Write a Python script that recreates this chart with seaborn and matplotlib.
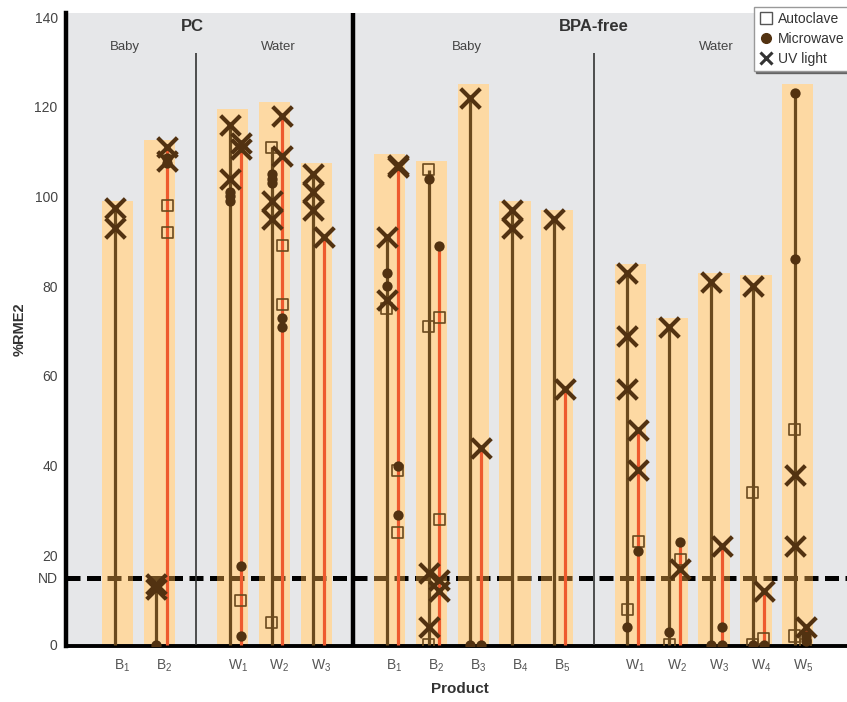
import matplotlib
matplotlib.use('Agg')
import matplotlib.pyplot as plt
import numpy as np
import pandas as pd
import seaborn as sns
from matplotlib import font_manager
from matplotlib.lines import Line2D
from matplotlib.path import Path

# data (%RME2 per product)
material = ['PC'] * 5 + ['BPA-free'] * 10
products = ['B$_1$', 'B$_2$', 'W$_1$', 'W$_2$', 'W$_3$',
            'B$_1$', 'B$_2$', 'B$_3$', 'B$_4$', 'B$_5$',
            'W$_1$', 'W$_2$', 'W$_3$', 'W$_4$', 'W$_5$']
bar_top = [99, 112.5, 119.5, 121, 107.5, 109.5, 108, 125, 99, 97, 85, 73, 83, 82.5, 125]

# first sample (brown stem) and second sample (red stem), one list per product
autoclave_a = [[], [], [], [111, 5], [], [75], [106, 71, 0], [], [], [], [8], [0], [], [34, 0], [48, 2]]
autoclave_b = [[], [98, 92], [10], [89, 76], [], [39, 25], [73, 28], [], [], [], [23], [19], [], [1.5], [0]]
microwave_a = [[], [0], [101, 100, 99], [105, 104, 103], [], [83, 80], [104], [0], [], [], [4], [3], [0], [0], [123, 86]]
microwave_b = [[], [108.5, 107.5], [17.5, 2], [73, 71], [], [40, 29], [89], [0], [], [], [21], [23], [4, 0], [0], [2, 1]]
uv_a = [[97.5, 93], [13.5, 12.5], [116, 104], [99, 95], [105, 101, 97], [91, 77], [16, 4], [122], [97, 93],
        [95], [83, 69, 57], [71], [81], [80], [38, 22]]
uv_b = [[], [111, 108], [112, 110.5], [118, 109], [91], [107, 106.5], [14.5, 12], [44], [], [57], [48, 39],
        [17], [22], [12], [4]]

nd_level = 15

# layout: product positions in groups (PC baby, PC water, BPA baby, BPA water)
group_sizes = [2, 3, 5, 5]
pos = []
start = 0
for g in group_sizes:
    pos += [start + k for k in range(g)]
    start = pos[-1] + 1.75
pos = np.array(pos, dtype=float)
off_a, off_b = -0.07, 0.19

rows = []
for i in range(len(products)):
    for stem, off, series in (('a', off_a, (autoclave_a, microwave_a, uv_a)),
                              ('b', off_b, (autoclave_b, microwave_b, uv_b))):
        for treat, vals in zip(['Autoclave', 'Microwave', 'UV light'], series):
            for v in vals[i]:
                rows.append({'x': pos[i] + off, 'value': v, 'stem': stem,
                             'treatment': treat, 'idx': i})
df = pd.DataFrame(rows)

sns.set_style('white')
names = {f.name for f in font_manager.fontManager.ttflist}
main_font = 'Liberation Sans Narrow' if 'Liberation Sans Narrow' in names else 'Liberation Sans'
plt.rcParams['font.family'] = [main_font, 'DejaVu Sans']
plt.rcParams['mathtext.fontset'] = 'custom'
plt.rcParams['mathtext.rm'] = main_font

brown = '#6b4a1e'
dark = '#523211'
red = '#ee5a2e'
bar_c = '#fdd9a3'

fig = plt.figure(figsize=(8.47, 7.02), dpi=100)
ax = fig.add_axes([0.078, 0.0793, 0.93, 0.9028])
ax.set_facecolor('#e6e7e9')

# ND line under the bars, brown copy clipped to the bars
ax.axhline(nd_level, color='black', lw=3.6, dashes=(2.8, 1.3), zorder=1.5)

sns.barplot(x=pos, y=bar_top, native_scale=True, width=0.75, color=bar_c, saturation=1,
            errorbar=None, linewidth=0, ax=ax, zorder=2)

clip = Path.make_compound_path(*[p.get_path().transformed(p.get_patch_transform())
                                 for p in ax.patches])
nd_brown = ax.axhline(nd_level, color=brown, lw=3.6, dashes=(2.8, 1.3), zorder=2.5)
nd_brown.set_clip_path(clip, ax.transData)

# dividers
ax.vlines([(pos[1] + pos[2]) / 2, (pos[9] + pos[10]) / 2], 0, 132, color='#333333', lw=1.2, zorder=2.6)
ax.axvline((pos[4] + pos[5]) / 2, color='black', lw=3.2, zorder=2.6)

# stems up to the highest point of each sample
tops = df.groupby(['idx', 'stem'])['value'].max().reset_index()
for _, r in tops.iterrows():
    off = off_a if r['stem'] == 'a' else off_b
    ax.vlines(pos[int(r['idx'])] + off, 0, r['value'], color=brown if r['stem'] == 'a' else red,
              lw=2.3, zorder=3)

sq = df[df.treatment == 'Autoclave']
ci = df[df.treatment == 'Microwave']
uv = df[df.treatment == 'UV light']
sns.scatterplot(data=sq, x='x', y='value', marker='s', s=64, facecolor='none', edgecolor=brown,
                color=brown, linewidth=1.2, ax=ax, zorder=4, legend=False)
sns.scatterplot(data=ci, x='x', y='value', marker='o', s=55, color=dark, edgecolor=dark, linewidth=0,
                ax=ax, zorder=4, legend=False)
sns.scatterplot(data=uv, x='x', y='value', marker='x', s=200, color=dark, linewidth=3,
                ax=ax, zorder=5, legend=False)

ax.set_xlim(-1.23, 17.59)
ax.set_ylim(-0.3, 141)
ax.set_xticks(pos + 0.12)
ax.set_xticklabels(products, fontsize=10, color='#555555')
ax.set_yticks([0, nd_level, 20, 40, 60, 80, 100, 120, 140])
ax.set_yticklabels(['0', 'ND', '20', '40', '60', '80', '100', '120', '140'], fontsize=10, color='#444444')
ax.tick_params(axis='y', direction='out', length=5, width=1, color='#333333', pad=1)
ax.tick_params(axis='x', length=0, pad=8)
ax.set_xlabel('Product', fontsize=11, fontweight='bold', color='#333333', labelpad=6)
ax.set_ylabel('%RME2', fontsize=10.5, fontweight='bold', color='#333333', labelpad=6)

for s in ['top', 'right']:
    ax.spines[s].set_visible(False)
ax.spines['left'].set_linewidth(3.2)
ax.spines['bottom'].set_linewidth(2.8)
ax.spines['left'].set_color('black')
ax.spines['bottom'].set_color('black')

# group headers
ax.text((pos[1] + pos[2]) / 2 - 0.08, 137.8, 'PC', ha='center', va='center', fontsize=12,
        fontweight='bold', color='#333333')
ax.text((pos[9] + pos[10]) / 2, 137.8, 'BPA-free', ha='center', va='center', fontsize=12,
        fontweight='bold', color='#333333')
for xt, lab in [(0.17, 'Baby'), (pos[3] + 0.1, 'Water'), (pos[7] - 0.15, 'Baby'), (pos[12] + 0.05, 'Water')]:
    ax.text(xt, 133.3, lab, ha='center', va='center', fontsize=9.5, color='#444444')

handles = [Line2D([], [], marker='s', ls='none', mfc='none', mec='#555555', ms=8, mew=1),
           Line2D([], [], marker='o', ls='none', color=dark, ms=7),
           Line2D([], [], marker='x', ls='none', color='#333333', ms=8, mew=2.2)]
leg = ax.legend(handles, ['Autoclave', 'Microwave', 'UV light'], loc='upper left',
                bbox_to_anchor=(0.873, 1.008), frameon=True, fancybox=False,
                shadow={'color': '#444444', 'alpha': 0.7, 'ox': 1.5, 'oy': -1.5},
                edgecolor='#999999', fontsize=10, handletextpad=0.4, borderpad=0.35,
                labelspacing=0.42, handlelength=1.0, borderaxespad=0)
for t in leg.get_texts():
    t.set_color('#333333')
leg.set_zorder(10)

fig.savefig('out.png', dpi=100)
